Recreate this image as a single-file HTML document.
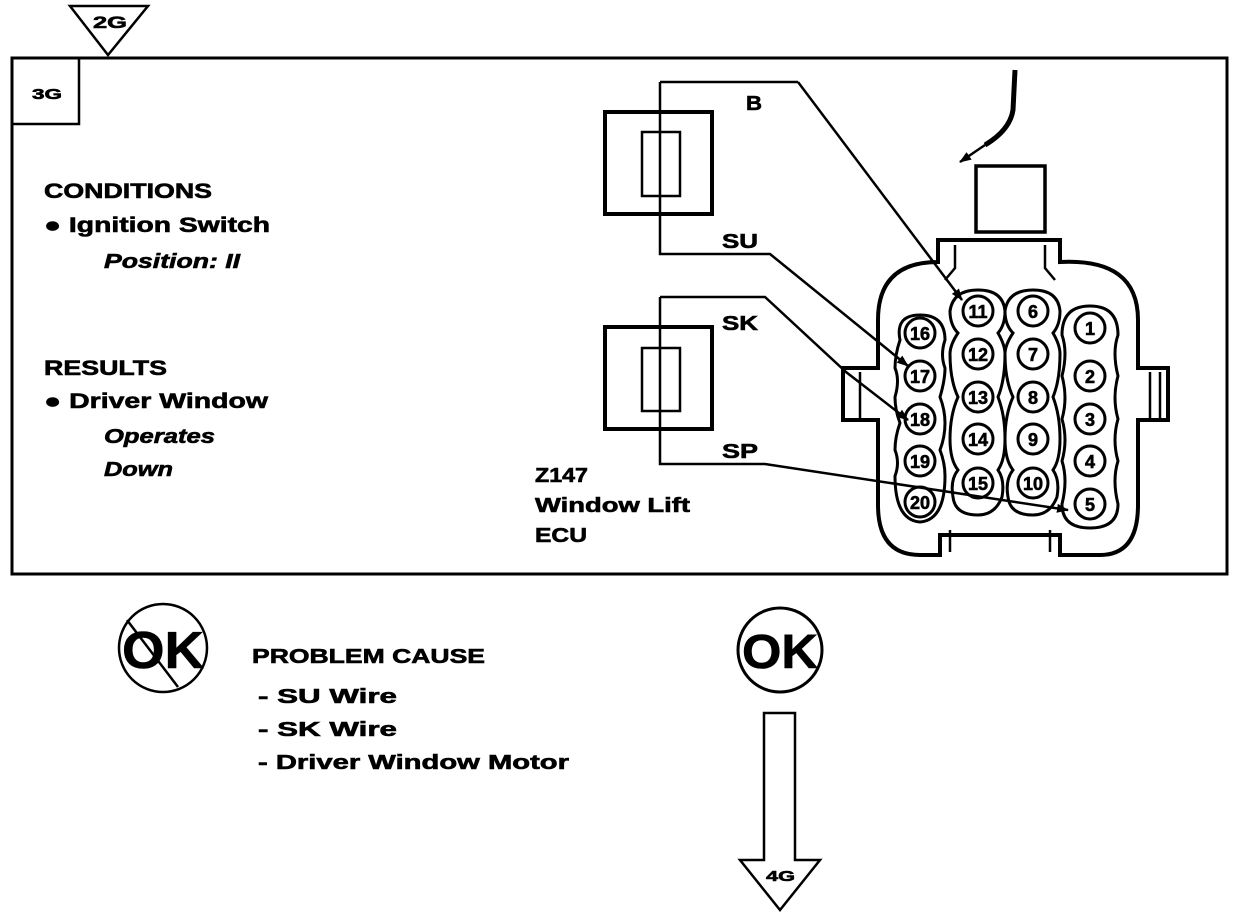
<!DOCTYPE html>
<html><head><meta charset="utf-8"><style>
html,body{margin:0;padding:0;background:#fff}
svg{display:block}
text{font-family:"Liberation Sans",sans-serif;fill:#000;font-weight:bold;stroke:#000;stroke-width:0.6}
</style></head><body>
<svg width="1248" height="924" viewBox="0 0 1248 924" xmlns="http://www.w3.org/2000/svg">
<defs>
<marker id="ah" markerWidth="12" markerHeight="9" refX="11" refY="4.5" orient="auto" markerUnits="userSpaceOnUse">
<path d="M0,0 L12,4.5 L0,9 Z" fill="#000"/></marker>
</defs>
<g fill="none" stroke="#000">
<rect x="12" y="58" width="1215" height="516" stroke-width="3"/>
<rect x="12" y="58" width="67" height="66" stroke-width="2.5"/>
<path d="M70,6 L148,6 L108,55 Z" stroke-width="2.5" fill="#fff"/>
<rect x="605" y="112" width="107" height="102" stroke-width="4"/>
<rect x="642" y="132" width="38" height="64" stroke-width="2.5"/>
<rect x="605" y="327" width="107" height="102" stroke-width="4"/>
<rect x="642" y="348" width="38" height="63" stroke-width="2.5"/>
<g stroke-width="2.5">
<path d="M660,82 L660,254 L770,254 L908,366" marker-end="url(#ah)"/>
<path d="M798,82 L660,82"/>
<path d="M798,82 L962,300" marker-end="url(#ah)"/>
<path d="M660,297 L660,464 L765,464 L1068,510" marker-end="url(#ah)"/>
<path d="M660,297 L765,297 L846,372 L908,420" marker-end="url(#ah)"/>
</g>
<path d="M1015,70 L1013,110 Q1010,130 985,145" stroke-width="5"/>
<path d="M985,145 L960,162" stroke-width="2.5" marker-end="url(#ah)"/>
<rect x="976" y="166" width="69" height="66" stroke-width="3.5"/>
<path d="M938,240 L1060,240 L1060,262 Q1138,258 1138,320 L1138,368 L1168,368 L1168,420 L1138,420 L1138,505 Q1138,555 1100,555 L1060,555 L1060,535 L940,535 L940,555 L920,555 Q878,555 878,505 L878,420 L843,420 L843,368 L878,368 L878,320 Q878,262 938,262 Z" stroke-width="4"/>
<path d="M955,245 L955,268 L945,280" stroke-width="2.5"/>
<path d="M1045,245 L1045,268 L1055,280" stroke-width="2.5"/>
<path d="M950,552 L950,530" stroke-width="2.5"/>
<path d="M1050,552 L1050,530" stroke-width="2.5"/>
<path d="M860,372 L860,418 M1150,372 L1150,418 M1160,372 L1160,418" stroke-width="2.5"/>
<g stroke-width="3">
<path d="M920,315 Q945,315 945,340 Q940,355 945,368 Q945,380 940,397 Q945,410 945,423 Q945,437 940,450 Q945,463 945,476 Q945,520 920,522 Q895,520 895,476 Q900,463 895,450 Q895,437 900,423 Q895,410 895,397 Q900,380 895,368 Q895,355 900,340 Q895,315 920,315 Z"/>
<path d="M978,290 Q1003,290 1005,311 Q1005,325 998,333 Q1005,345 1005,354 Q1005,380 998,397 Q1005,415 1005,439 Q1005,460 998,470 Q1005,480 1002,497 Q995,515 978,515 Q955,515 953,497 Q950,480 958,470 Q950,460 950,439 Q950,415 958,397 Q950,380 950,354 Q950,345 958,333 Q950,325 950,311 Q953,290 978,290 Z"/>
<path d="M1033,290 Q1058,290 1060,311 Q1060,325 1053,333 Q1060,345 1060,354 Q1060,380 1053,397 Q1060,415 1060,439 Q1060,460 1053,470 Q1060,480 1057,497 Q1050,515 1033,515 Q1010,515 1008,497 Q1005,480 1013,470 Q1005,460 1005,439 Q1005,415 1013,397 Q1005,380 1005,354 Q1005,345 1013,333 Q1005,325 1005,311 Q1008,290 1033,290 Z"/>
<path d="M1090,306 Q1118,306 1118,335 Q1112,352 1118,376 Q1112,398 1118,419 Q1112,440 1118,461 Q1112,480 1118,504 Q1118,528 1090,528 Q1062,528 1062,504 Q1068,480 1062,461 Q1068,440 1062,419 Q1068,398 1062,376 Q1068,352 1062,335 Q1062,306 1090,306 Z"/>
</g>
<g stroke-width="3">
<circle cx="920" cy="333" r="15"/><circle cx="920" cy="376" r="15"/><circle cx="920" cy="419" r="15"/><circle cx="920" cy="461" r="15"/><circle cx="920" cy="502" r="15"/>
<circle cx="978" cy="311" r="15"/><circle cx="978" cy="354" r="15"/><circle cx="978" cy="397" r="15"/><circle cx="978" cy="439" r="15"/><circle cx="978" cy="483" r="15"/>
<circle cx="1033" cy="311" r="15"/><circle cx="1033" cy="354" r="15"/><circle cx="1033" cy="397" r="15"/><circle cx="1033" cy="439" r="15"/><circle cx="1033" cy="483" r="15"/>
<circle cx="1090" cy="328" r="15"/><circle cx="1090" cy="376" r="15"/><circle cx="1090" cy="419" r="15"/><circle cx="1090" cy="461" r="15"/><circle cx="1090" cy="504" r="15"/>
</g>
<circle cx="163" cy="648" r="44" stroke-width="2.5"/>
<path d="M127,620 L178,687" stroke-width="2.5"/>
<circle cx="780" cy="650" r="42" stroke-width="3"/>
<path d="M764,713 L764,860 L740,860 L780,910 L820,860 L795,860 L795,713 Z" stroke-width="2.5"/>
</g>
<text x="93" y="28" font-size="17" textLength="34" lengthAdjust="spacingAndGlyphs">2G</text>
<text x="32" y="99" font-size="15" textLength="30" lengthAdjust="spacingAndGlyphs">3G</text>
<text x="44" y="198" font-size="21" textLength="168" lengthAdjust="spacingAndGlyphs">CONDITIONS</text>
<text x="44" y="232" font-size="21" textLength="226" lengthAdjust="spacingAndGlyphs">● Ignition Switch</text>
<text x="104" y="268" font-size="20" font-style="italic" textLength="136" lengthAdjust="spacingAndGlyphs">Position: II</text>
<text x="44" y="375" font-size="21" textLength="123" lengthAdjust="spacingAndGlyphs">RESULTS</text>
<text x="44" y="408" font-size="21" textLength="224" lengthAdjust="spacingAndGlyphs">● Driver Window</text>
<text x="104" y="443" font-size="20" font-style="italic" textLength="111" lengthAdjust="spacingAndGlyphs">Operates</text>
<text x="104" y="476" font-size="20" font-style="italic" textLength="69" lengthAdjust="spacingAndGlyphs">Down</text>
<text x="746" y="110" font-size="20" textLength="16" lengthAdjust="spacingAndGlyphs">B</text>
<text x="722" y="248" font-size="20" textLength="36" lengthAdjust="spacingAndGlyphs">SU</text>
<text x="722" y="330" font-size="20" textLength="36" lengthAdjust="spacingAndGlyphs">SK</text>
<text x="722" y="458" font-size="20" textLength="36" lengthAdjust="spacingAndGlyphs">SP</text>
<text x="535" y="482" font-size="20" textLength="53" lengthAdjust="spacingAndGlyphs">Z147</text>
<text x="535" y="512" font-size="20" textLength="155" lengthAdjust="spacingAndGlyphs">Window Lift</text>
<text x="535" y="542" font-size="20" textLength="52" lengthAdjust="spacingAndGlyphs">ECU</text>
<text x="122" y="668" font-size="52" textLength="82" lengthAdjust="spacingAndGlyphs">OK</text>
<text x="742" y="668" font-size="48" textLength="76" lengthAdjust="spacingAndGlyphs">OK</text>
<text x="252" y="663" font-size="20" textLength="233" lengthAdjust="spacingAndGlyphs">PROBLEM CAUSE</text>
<text x="258" y="703" font-size="20" textLength="139" lengthAdjust="spacingAndGlyphs">-  SU  Wire</text>
<text x="258" y="736" font-size="20" textLength="139" lengthAdjust="spacingAndGlyphs">-  SK  Wire</text>
<text x="258" y="769" font-size="20" textLength="311" lengthAdjust="spacingAndGlyphs">-  Driver  Window  Motor</text>
<text x="766" y="881" font-size="15" textLength="29" lengthAdjust="spacingAndGlyphs">4G</text>
<g font-size="18" text-anchor="middle">
<text x="920" y="340">16</text><text x="920" y="383">17</text><text x="920" y="426">18</text><text x="920" y="468">19</text><text x="920" y="509">20</text>
<text x="978" y="318">11</text><text x="978" y="361">12</text><text x="978" y="404">13</text><text x="978" y="446">14</text><text x="978" y="490">15</text>
<text x="1033" y="318">6</text><text x="1033" y="361">7</text><text x="1033" y="404">8</text><text x="1033" y="446">9</text><text x="1033" y="490">10</text>
<text x="1090" y="335">1</text><text x="1090" y="383">2</text><text x="1090" y="426">3</text><text x="1090" y="468">4</text><text x="1090" y="511">5</text>
</g>
</svg>
</body></html>
